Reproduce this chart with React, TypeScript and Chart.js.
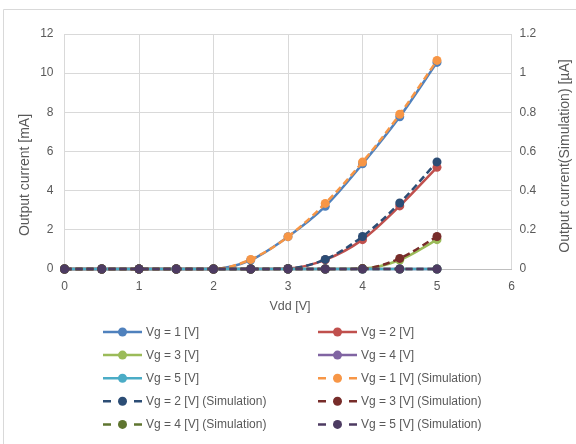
import React, { useEffect, useRef } from "react";
import { Chart, registerables } from "chart.js";

Chart.register(...registerables);

// ---- data ----
const vdd = [0, 0.5, 1, 1.5, 2, 2.5, 3, 3.5, 4, 4.5, 5];

// measured, mA (left axis)
const measVg1 = [0, 0, 0, 0, 0, 0.46, 1.65, 3.2, 5.37, 7.77, 10.55];
const measVg2 = [0, 0, 0, 0, 0, 0, 0.03, 0.47, 1.5, 3.22, 5.19];
const measVg3 = [0, 0, 0, 0, 0, 0, 0, 0, 0.02, 0.46, 1.5];
const measVg4 = [0, 0, 0, 0, 0, 0, 0, 0, 0, 0, 0];
const measVg5 = [0, 0, 0, 0, 0, 0, 0, 0, 0, 0, 0];

// simulation, µA (right axis)
const simVg1 = [0, 0, 0, 0, 0, 0.049, 0.165, 0.335, 0.546, 0.79, 1.065];
const simVg2 = [0, 0, 0, 0, 0, 0, 0.003, 0.049, 0.166, 0.337, 0.547];
const simVg3 = [0, 0, 0, 0, 0, 0, 0, 0, 0.002, 0.054, 0.166];
const simVg4 = [0, 0, 0, 0, 0, 0, 0, 0, 0, 0, 0];
const simVg5 = [0, 0, 0, 0, 0, 0, 0, 0, 0, 0, 0];

const labels = [
  "Vg = 1 [V]",
  "Vg = 2 [V]",
  "Vg = 3 [V]",
  "Vg = 4 [V]",
  "Vg = 5 [V]",
  "Vg = 1 [V] (Simulation)",
  "Vg = 2 [V] (Simulation)",
  "Vg = 3 [V] (Simulation)",
  "Vg = 4 [V] (Simulation)",
  "Vg = 5 [V] (Simulation)",
];

const xTitle = "Vdd [V]";
const yLeftTitle = "Output current [mA]";
const yRightTitle = "Output current(Simulation) [µA]";

const colors = [
  "#4F81BD",
  "#C0504D",
  "#9BBB59",
  "#8064A2",
  "#4BACC6",
  "#F79646",
  "#2C4D75",
  "#772C2A",
  "#5F7530",
  "#4D3B62",
];

const FONT = "'Liberation Sans', Arial, sans-serif";
const TEXT = "#595959";
const GRID = "#d9d9d9";

const seriesValues = [
  measVg1, measVg2, measVg3, measVg4, measVg5,
  simVg1, simVg2, simVg3, simVg4, simVg5,
];

const legendPlugin = {
  id: "customLegend",
  afterDraw(chart: any) {
    const ctx = chart.ctx as CanvasRenderingContext2D;
    const ds = chart.data.datasets;
    ctx.save();
    ds.forEach((d: any, i: number) => {
      const col = i % 2;
      const row = Math.floor(i / 2);
      const x0 = col === 0 ? 103 : 318;
      const y = 332 + row * 23.1;
      ctx.strokeStyle = d.borderColor;
      ctx.lineWidth = 2.5;
      ctx.setLineDash([]);
      ctx.beginPath();
      if (d.borderDash && d.borderDash.length) {
        ctx.moveTo(x0, y);
        ctx.lineTo(x0 + 8, y);
        ctx.moveTo(x0 + 31, y);
        ctx.lineTo(x0 + 39, y);
      } else {
        ctx.moveTo(x0, y);
        ctx.lineTo(x0 + 39, y);
      }
      ctx.stroke();
      ctx.beginPath();
      ctx.fillStyle = d.pointBackgroundColor;
      ctx.arc(x0 + 19.5, y, 4.5, 0, Math.PI * 2);
      ctx.fill();
      ctx.fillStyle = TEXT;
      ctx.font = `12px ${FONT}`;
      ctx.textAlign = "left";
      ctx.textBaseline = "middle";
      ctx.fillText(d.label, x0 + 43, y + 0.5);
    });
    ctx.restore();
  },
};

const framePlugin = {
  id: "frameTitles",
  beforeDraw(chart: any) {
    const ctx = chart.ctx as CanvasRenderingContext2D;
    ctx.save();
    ctx.fillStyle = "#ffffff";
    ctx.fillRect(0, 0, chart.width, chart.height);
    ctx.strokeStyle = GRID;
    ctx.lineWidth = 1;
    ctx.beginPath();
    ctx.moveTo(3.5, chart.height);
    ctx.lineTo(3.5, 9.5);
    ctx.lineTo(chart.width, 9.5);
    ctx.stroke();
    ctx.restore();
  },
  afterDraw(chart: any) {
    const ctx = chart.ctx as CanvasRenderingContext2D;
    ctx.save();
    ctx.fillStyle = TEXT;
    ctx.textAlign = "center";
    ctx.textBaseline = "middle";
    ctx.font = `12.5px ${FONT}`;
    ctx.fillText(xTitle, 290, 307);
    ctx.font = `14px ${FONT}`;
    ctx.save();
    ctx.translate(25, 175);
    ctx.rotate(-Math.PI / 2);
    ctx.fillText(yLeftTitle, 0, 0);
    ctx.restore();
    ctx.save();
    ctx.translate(565, 156);
    ctx.rotate(-Math.PI / 2);
    ctx.fillText(yRightTitle, 0, 0);
    ctx.restore();
    ctx.restore();
  },
};

export default function App() {
  const ref = useRef<HTMLCanvasElement | null>(null);

  useEffect(() => {
    if (!ref.current) return;
    const datasets = seriesValues.map((vals, i) => {
      const sim = i >= 5;
      return {
        label: labels[i],
        data: vdd.map((x, j) => ({ x, y: vals[j] })),
        yAxisID: sim ? "y1" : "y",
        borderColor: colors[i],
        backgroundColor: colors[i],
        pointBackgroundColor: colors[i],
        pointBorderColor: colors[i],
        pointRadius: 4.5,
        pointBorderWidth: 0,
        borderWidth: 2.5,
        borderDash: sim ? [7, 4] : [],
        cubicInterpolationMode: "monotone" as const,
        order: 20 - i,
        clip: false as any,
      };
    });

    const chart = new Chart(ref.current, {
      type: "line",
      data: { datasets },
      plugins: [framePlugin, legendPlugin],
      options: {
        responsive: false,
        animation: false,
        layout: { padding: { top: 34, bottom: 145, left: 0, right: 0 } },
        plugins: {
          legend: { display: false },
          tooltip: { enabled: false },
        },
        scales: {
          x: {
            type: "linear",
            min: 0,
            max: 6,
            ticks: {
              stepSize: 1,
              color: TEXT,
              font: { family: FONT, size: 12 },
              padding: 10,
            },
            grid: { color: GRID, drawTicks: false },
            border: { display: true, color: "#bfbfbf" },
            afterFit: (s: any) => {
              s.height = 30;
            },
          },
          y: {
            type: "linear",
            position: "left",
            min: 0,
            max: 12,
            ticks: {
              stepSize: 2,
              color: TEXT,
              font: { family: FONT, size: 12 },
              padding: 11,
            },
            grid: { color: GRID, drawTicks: false },
            border: { display: false },
            afterFit: (s: any) => {
              s.width = 64.5;
            },
          },
          y1: {
            type: "linear",
            position: "right",
            min: 0,
            max: 1.2,
            ticks: {
              stepSize: 0.2,
              color: TEXT,
              font: { family: FONT, size: 12 },
              padding: 8,
              callback: (v: any) => String(Math.round(Number(v) * 10) / 10),
            },
            grid: { display: false, drawTicks: false },
            border: { display: false },
            afterFit: (s: any) => {
              s.width = 64.5;
            },
          },
        },
      },
    });
    return () => chart.destroy();
  }, []);

  return (
    <div
      style={{
        position: "fixed",
        left: 0,
        top: 0,
        width: 576,
        height: 444,
        background: "#fff",
      }}
    >
      <canvas ref={ref} width={576} height={444} style={{ display: "block" }} />
    </div>
  );
}
